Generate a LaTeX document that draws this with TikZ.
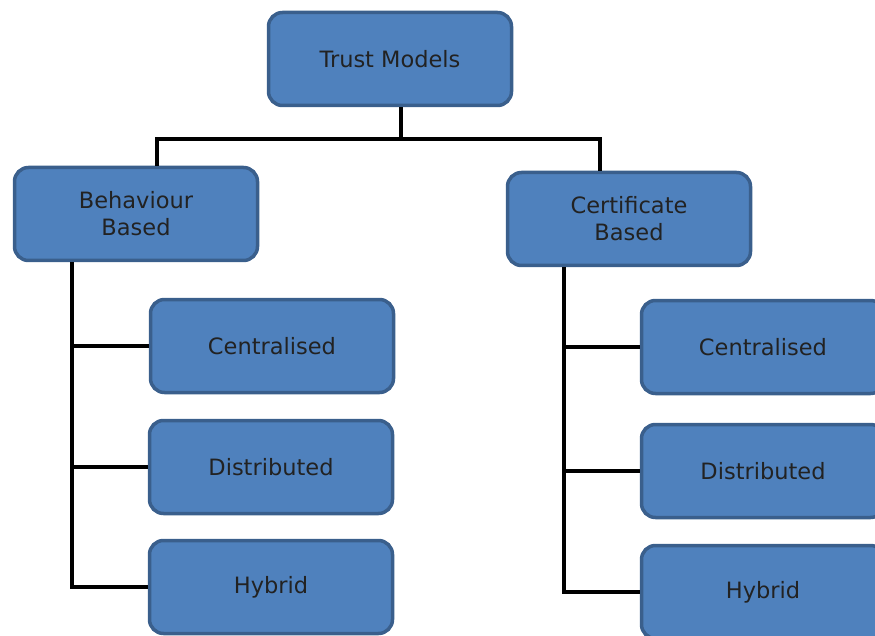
\documentclass[tikz,border=0pt]{standalone}
\usepackage{fontspec}
\setmainfont{DejaVu Sans}
\usetikzlibrary{positioning}
\definecolor{boxfill}{HTML}{4F81BD}
\definecolor{boxline}{HTML}{3A5F8C}
\definecolor{boxtext}{HTML}{222222}
\tikzset{
    modelbox/.style={draw=boxline, line width=3.5pt, fill=boxfill, rounded corners=14pt,
        minimum width=243pt, minimum height=93pt, align=center, text=boxtext,
        font=\fontsize{22.5}{27}\selectfont},
    branch/.style={line width=4.5pt, black}
}
\begin{document}
\begin{tikzpicture}[x=1pt, y=-1pt]
            \useasboundingbox (0,0) rectangle (875,636);
            \clip (0,0) rectangle (875,636);
            \node[modelbox] (tm) at (390,59) {Trust Models};
            \node[modelbox] (bb) at (136,214) {Behaviour\\Based};
            \node[modelbox] (cb) at (629,219) {Certificate\\Based};
            \begin{scope}
                \node[modelbox] (bc) at (272,346) {Centralised};
                \node[modelbox] (bd) at (271,467) {Distributed};
                \node[modelbox] (bh) at (271,587) {Hybrid};
            \end{scope}
            \begin{scope}
                \node[modelbox] (cc) at (763,347) {Centralised};
                \node[modelbox] (cd) at (763,471) {Distributed};
                \node[modelbox] (ch) at (763,592) {Hybrid};
            \end{scope}
            \coordinate (top) at (401,139);
            \draw[branch] (tm.south -| top) -- (top);
            \draw[branch] (bb.north -| 157,0) |- (top) -| (cb.north -| 600,0);
            \coordinate (ltrunk) at (72,0);
            \coordinate (rtrunk) at (564,0);
            \draw[branch] (bb.south -| ltrunk) |- (bh.west);
            \draw[branch] (bc.west) -- (bc.west -| ltrunk);
            \draw[branch] (bd.west) -- (bd.west -| ltrunk);
            \draw[branch] (cb.south -| rtrunk) |- (ch.west);
            \draw[branch] (cc.west) -- (cc.west -| rtrunk);
            \draw[branch] (cd.west) -- (cd.west -| rtrunk);
        \end{tikzpicture}
\end{document}
